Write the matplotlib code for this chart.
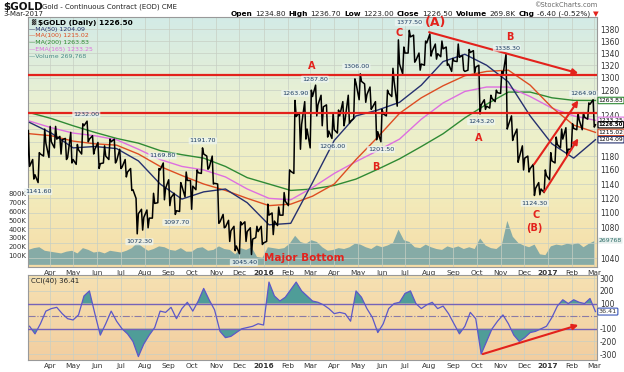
import numpy as np
import pandas as pd
import matplotlib
matplotlib.use('Agg')
import matplotlib.pyplot as plt
import matplotlib.dates as mdates
from matplotlib.colors import LinearSegmentedColormap
from matplotlib.ticker import FixedLocator, NullLocator

W, H = 624, 372

# weekly data, week ending Friday
week_end = pd.date_range('2015-03-06', '2017-03-03', freq='W-FRI')

highs = [1218, 1175, 1185, 1220,
         1224, 1224, 1209, 1206,
         1215, 1197, 1228, 1232, 1210,
         1200, 1195, 1205, 1205,
         1190, 1175, 1162, 1120, 1105,
         1104, 1127, 1162, 1170,
         1146, 1127, 1142, 1157,
         1145, 1160, 1192, 1180, 1180,
         1140, 1098, 1090, 1082,
         1088, 1088, 1080, 1082,
         1082, 1112, 1100, 1108, 1128,
         1160, 1264, 1245, 1262,
         1280, 1288, 1272, 1257,
         1245, 1249, 1262, 1272, 1298,
         1306, 1290, 1285, 1262,
         1250, 1280, 1315, 1362,
         1350, 1378, 1370, 1340, 1360,
         1372, 1355, 1360, 1350,
         1331, 1355, 1336, 1346, 1344,
         1320, 1265, 1272, 1280,
         1310, 1338, 1240, 1220,
         1195, 1180, 1168, 1142, 1160,
         1185, 1208, 1220, 1222,
         1228, 1245, 1245, 1260,
         1265]
lows = [1163, 1147, 1142, 1180,
        1178, 1192, 1183, 1175,
        1170, 1168, 1183, 1201, 1183,
        1162, 1170, 1175, 1170,
        1162, 1150, 1131, 1072, 1077,
        1080, 1093, 1114, 1118,
        1110, 1098, 1102, 1122,
        1105, 1132, 1155, 1161, 1140,
        1086, 1080, 1062, 1050,
        1046, 1062, 1045, 1067,
        1058, 1062, 1071, 1083, 1097,
        1110, 1155, 1190, 1205,
        1192, 1240, 1225, 1208,
        1206, 1214, 1225, 1229, 1236,
        1265, 1261, 1250, 1204,
        1201, 1240, 1270, 1255,
        1306, 1340, 1325, 1312, 1320,
        1335, 1330, 1334, 1320,
        1310, 1326, 1312, 1312, 1308,
        1243, 1250, 1252, 1262,
        1275, 1220, 1203, 1171,
        1160, 1157, 1124, 1125, 1128,
        1146, 1170, 1192, 1180,
        1190, 1219, 1219, 1235,
        1223]
closes = [1165, 1153, 1183, 1199,
          1201, 1205, 1204, 1178,
          1175, 1189, 1225, 1205, 1190,
          1169, 1180, 1201, 1173,
          1164, 1157, 1132, 1099, 1094,
          1093, 1113, 1160, 1134,
          1121, 1103, 1137, 1145,
          1137, 1156, 1183, 1163, 1141,
          1088, 1081, 1076, 1056,
          1084, 1075, 1065, 1075,
          1060, 1097, 1089, 1097, 1116,
          1158, 1239, 1227, 1220,
          1270, 1257, 1254, 1217,
          1219, 1240, 1235, 1232, 1291,
          1294, 1273, 1253, 1216,
          1243, 1275, 1294, 1322,
          1340, 1367, 1328, 1322, 1357,
          1343, 1339, 1347, 1322,
          1327, 1333, 1310, 1341, 1317,
          1257, 1255, 1267, 1276,
          1304, 1226, 1209, 1178,
          1177, 1162, 1134, 1133, 1152,
          1173, 1197, 1205, 1190,
          1221, 1234, 1238, 1258,
          1226.5]
volume_k = [170, 190, 200, 160,
            150, 140, 130, 150,
            160, 130, 190, 170, 140,
            150, 130, 160, 150,
            140, 160, 190, 250, 200,
            160, 180, 210, 200,
            170, 160, 190, 150,
            150, 190, 200, 160, 170,
            210, 180, 170, 120,
            190, 170, 200, 90,
            80, 200, 190, 180, 190,
            240, 330, 260, 240,
            280, 260, 200, 160,
            170, 190, 180, 200, 240,
            230, 200, 180, 220,
            200, 220, 250, 400,
            280, 260, 200, 190, 230,
            200, 180, 170, 210,
            190, 210, 180, 200, 180,
            300, 220, 190, 180,
            230, 500, 320, 250,
            220, 200, 230, 120, 110,
            210, 230, 220, 240,
            230, 250, 200, 240,
            270]
cci = [-80, -140, -60, 40,
       60, 70, 20, -20,
       -30, 10, 160, 200, 20,
       -150, -60, 40, -40,
       -100, -140, -200, -320, -220,
       -150, -90, 40, 30,
       70, -20, 60, 110,
       40, 120, 220, 130, 50,
       -120, -170, -160, -130,
       -100, -90, -80, -60,
       -70, 270, 160, 120, 150,
       210, 270, 200, 160,
       120, 110, 90, 60,
       20, 30, 20, -40, 200,
       150, 60, -10, -130,
       -60, 60, 100, 110,
       180, 200, 100, 60, 90,
       110, 60, 80, 20,
       -60, -140, -80, 30, -20,
       -300, -200, -100, -40,
       10, -60, -150, -200,
       -170, -130, -120, -100, -80,
       -10, 80, 130, 100,
       130, 110, 100, 140,
       36.41]

# moving averages, every fourth week
ma_dates = week_end[::4]
ma50 = [1230, 1214, 1192, 1194, 1191, 1173, 1140, 1119, 1129, 1133, 1114, 1084, 1086, 1142,
        1203, 1240, 1249, 1261, 1288, 1326, 1338, 1320, 1293, 1240, 1198, 1177, 1204.09]
ma100 = [1213, 1210, 1202, 1198, 1196, 1183, 1165, 1152, 1140, 1131, 1120, 1110, 1112, 1123,
         1140, 1175, 1208, 1244, 1268, 1287, 1303, 1310, 1312, 1288, 1253, 1226, 1215.02]
ma200 = [1245, 1236, 1225, 1215, 1206, 1199, 1188, 1182, 1177, 1165, 1149, 1140, 1131, 1133,
         1138, 1147, 1161, 1176, 1194, 1213, 1237, 1258, 1277, 1277, 1268, 1264, 1263.83]
ema165 = [1232, 1222, 1214, 1210, 1204, 1190, 1175, 1165, 1160, 1150, 1133, 1120, 1118, 1135,
          1155, 1172, 1188, 1205, 1235, 1260, 1278, 1285, 1285, 1270, 1252, 1240, 1233.25]

price_labels = [('1141.60', '2015-03-17', 1142, 0, -9), ('1232.00', '2015-05-18', 1232, 0, 7),
                ('1072.30', '2015-07-24', 1072, 1, -8), ('1169.80', '2015-08-24', 1170, 0, 7),
                ('1097.70', '2015-09-11', 1098, 0, -8), ('1191.70', '2015-10-15', 1192, 0, 7),
                ('1045.40', '2015-12-17', 1045, -8, -8), ('1263.90', '2016-02-11', 1264, 0, 7),
                ('1287.80', '2016-03-11', 1288, -3, 6), ('1206.00', '2016-03-30', 1206, 0, -8),
                ('1306.00', '2016-05-02', 1306, -2, 7), ('1201.50', '2016-05-31', 1201.5, 0, -8),
                ('1377.50', '2016-07-06', 1377.5, 0, 8), ('1243.20', '2016-10-07', 1243.2, 0, -8),
                ('1338.30', '2016-11-09', 1338.3, 0, 6), ('1124.30', '2016-12-15', 1124.3, 0, -8),
                ('1264.90', '2017-02-27', 1264.9, -9, 6)]
wave_labels = [('A', '2016-03-03', 1318, 7), ('B', '2016-05-25', 1164, 7), ('C', '2016-06-23', 1373, 7),
               ('(A)', '2016-08-09', 1391, 9), ('B', '2016-11-13', 1367, 7), ('A', '2016-10-04', 1206, 7),
               ('C', '2016-12-17', 1097, 7), ('(B)', '2016-12-14', 1080, 7),
               ('Major Bottom', '2016-02-23', 1041, 7.5)]
support_lines = [1305, 1244]
price_arrows = [(('2016-08-01', 1375), ('2017-02-09', 1307)),
                (('2016-12-14', 1168), ('2017-02-09', 1264)),
                (('2016-12-27', 1129), ('2017-02-09', 1206))]
cci_arrow = (('2016-10-09', -300), ('2017-02-09', -70))

RED = '#e3221c'
C50, C100, C200, CEMA = '#25306e', '#dd4d22', '#2f8a34', '#de6fe0'
VOLC = '#86aba6'
GRID = '#c7cfc4'


def rect(x0, y0, x1, y1):
    return [x0 / W, 1 - y1 / H, (x1 - x0) / W, (y1 - y0) / H]


fig = plt.figure(figsize=(W / 100, H / 100), dpi=100)
fig.patch.set_facecolor('white')

main_rect = rect(28, 17, 597, 267)
cci_rect = rect(28, 275, 597, 360)

for r, cols in [(main_rect, ['#d3ebe7', '#e9f0d2', '#f2eebf', '#f6dca6']),
                (cci_rect, ['#f6e1b2', '#f2cea0'])]:
    bg = fig.add_axes(r, zorder=0)
    cmap = LinearSegmentedColormap.from_list('g', cols)
    bg.imshow(np.linspace(0, 1, 256).reshape(-1, 1), aspect='auto', cmap=cmap, extent=[0, 1, 0, 1])
    bg.set_axis_off()

xmin, xmax = pd.Timestamp('2015-03-04'), pd.Timestamp('2017-03-05')
month_starts = pd.date_range('2015-04-01', '2017-03-01', freq='MS')
month_text = [d.strftime('%Y') if d.month == 1 else d.strftime('%b') for d in month_starts]

ax = fig.add_axes(main_rect, zorder=2)
vax = ax.twinx()
vax.set_zorder(1)
ax.set_zorder(2)
ax.patch.set_visible(False)
vax.patch.set_visible(False)

# volume
vax.fill_between(week_end - pd.Timedelta(days=2), volume_k, 0, color=VOLC, lw=0)
vax.set_ylim(-30, 2810)
vax.yaxis.set_ticks_position('left')
vax.set_yticks([100, 200, 300, 400, 500, 600, 700, 800])
vax.set_yticklabels(['%dK' % v for v in [100, 200, 300, 400, 500, 600, 700, 800]], fontsize=5, color='#333333')
vax.tick_params(axis='y', length=0, pad=1)
for s in vax.spines.values():
    s.set_visible(False)

# grid
ax.set_yscale('log')
ax.set_ylim(1029, 1401)
ax.set_xlim(xmin, xmax)
for d in month_starts:
    ax.axvline(d, color=GRID, lw=0.5, zorder=0)
for p in range(1040, 1400, 20):
    ax.axhline(p, color=GRID, lw=0.5, zorder=0)

# moving averages
ax.plot(ma_dates, ma200, color=C200, lw=1.0, zorder=3)
ax.plot(ma_dates, ema165, color=CEMA, lw=1.0, zorder=3)
ax.plot(ma_dates, ma100, color=C100, lw=1.0, zorder=3)
ax.plot(ma_dates, ma50, color=C50, lw=1.0, zorder=3)

# price path through each week's high and low
px_d, px_v = [week_end[0] - pd.Timedelta(days=4)], [closes[0]]
prev = closes[0]
for d, hi, lo, c in zip(week_end, highs, lows, closes):
    first, second = (lo, hi) if c >= prev else (hi, lo)
    px_d += [d - pd.Timedelta(days=3), d - pd.Timedelta(days=1.5), d]
    px_v += [first, second, c]
    prev = c
ax.plot(px_d, px_v, color='black', lw=1.1, zorder=4)

for y in support_lines:
    ax.axhline(y, color=RED, lw=1.6, zorder=5)
for (d0, p0), (d1, p1) in price_arrows:
    ax.annotate('', xy=(pd.Timestamp(d1), p1), xytext=(pd.Timestamp(d0), p0),
                arrowprops=dict(arrowstyle='-|>', color=RED, lw=1.5, mutation_scale=8,
                                shrinkA=0, shrinkB=0), zorder=6)

for txt, d, p, dx, dy in price_labels:
    ax.annotate(txt, xy=(pd.Timestamp(d), p), xytext=(dx * 0.72, dy * 0.72), textcoords='offset points',
                ha='center', va='center', fontsize=4.6, color='#1d3d63', zorder=7,
                bbox=dict(boxstyle='round,pad=0.15', fc='#eef6f4', ec='none', alpha=0.75))
for txt, d, p, fs in wave_labels:
    ax.text(pd.Timestamp(d), p, txt, ha='center', va='center', fontsize=fs, color=RED,
            fontweight='bold', zorder=7)

ax.yaxis.tick_right()
ticks = [1040, 1080, 1100, 1120, 1140, 1160, 1180, 1240, 1280, 1300, 1320, 1340, 1360, 1380]
ax.yaxis.set_major_locator(FixedLocator(ticks))
ax.yaxis.set_minor_locator(NullLocator())
ax.set_yticklabels([str(t) for t in ticks], fontsize=5.5, color='#333333')
ax.set_xticks(month_starts)
ax.set_xticklabels(month_text, fontsize=5.3, color='#333333')
for lab, t in zip(ax.get_xticklabels(), month_text):
    if t.isdigit():
        lab.set_fontweight('bold')
ax.tick_params(length=0, pad=2)
for s in ax.spines.values():
    s.set_color('#999999')
    s.set_linewidth(0.8)


def tag(axis, y, txt, ec, tc='black', bold=False, z=10, fs=4.3):
    axis.annotate(txt, xy=(1, y), xycoords=axis.get_yaxis_transform(), xytext=(1.2, 0),
                  textcoords='offset points', ha='left', va='center', fontsize=fs, color=tc,
                  fontweight='bold' if bold else 'normal', annotation_clip=False, zorder=z,
                  bbox=dict(boxstyle='round,pad=0.12', fc='white', ec=ec, lw=0.8))


tag(ax, ma200[-1], '%.2f' % ma200[-1], C200)
tag(ax, ema165[-1], '%.2f' % ema165[-1], CEMA)
tag(ax, closes[-1], '%.2f' % closes[-1], 'black', bold=True, z=11, fs=3.9)
tag(ax, ma100[-1], '%.2f' % ma100[-1], C100)
tag(ax, ma50[-1], '%.2f' % ma50[-1], C50)
vax.annotate('269768', xy=(1, volume_k[-1]), xycoords=vax.get_yaxis_transform(), xytext=(1.2, 0),
             textcoords='offset points', ha='left', va='center', fontsize=4.4, color='#2f6f6a',
             annotation_clip=False, bbox=dict(boxstyle='round,pad=0.1', fc='#e8f0ee', ec='none'))

# CCI panel
cax = fig.add_axes(cci_rect, zorder=2)
cax.patch.set_visible(False)
cax.set_xlim(xmin, xmax)
cax.set_ylim(-347, 326)
for d in month_starts:
    cax.axvline(d, color=GRID, lw=0.5, zorder=0)
for v in [-300, -200, 200, 300]:
    cax.axhline(v, color=GRID, lw=0.5, zorder=0)
cci_arr = np.array(cci)
cax.fill_between(week_end, cci_arr, 100, where=cci_arr >= 100, interpolate=True, color='#4f9d98', lw=0, zorder=2)
cax.fill_between(week_end, cci_arr, -100, where=cci_arr <= -100, interpolate=True, color='#4f9d98', lw=0, zorder=2)
cax.axhline(100, color='#7563b8', lw=1.0, zorder=3)
cax.axhline(-100, color='#7563b8', lw=1.0, zorder=3)
cax.axhline(0, color='#8a7aa6', lw=0.8, ls='-.', zorder=3)
cax.plot(week_end, cci, color='#5b57c9', lw=0.9, zorder=4)
(d0, v0), (d1, v1) = cci_arrow
cax.annotate('', xy=(pd.Timestamp(d1), v1), xytext=(pd.Timestamp(d0), v0),
             arrowprops=dict(arrowstyle='-|>', color=RED, lw=1.5, mutation_scale=8, shrinkA=0, shrinkB=0),
             zorder=6)
cax.yaxis.tick_right()
cci_ticks = [-300, -200, -100, 100, 200, 300]
cax.set_yticks(cci_ticks)
cax.set_yticklabels([str(v) for v in cci_ticks], fontsize=5.5, color='#333333')
cax.set_xticks(month_starts)
cax.set_xticklabels(month_text, fontsize=5.3, color='#333333')
for lab, t in zip(cax.get_xticklabels(), month_text):
    if t.isdigit():
        lab.set_fontweight('bold')
cax.tick_params(length=0, pad=2)
for s in cax.spines.values():
    s.set_color('#999999')
    s.set_linewidth(0.8)
cax.annotate('36.41', xy=(1, cci[-1]), xycoords=cax.get_yaxis_transform(), xytext=(1.2, 0),
             textcoords='offset points', ha='left', va='center', fontsize=4.6, color='#333333',
             annotation_clip=False, zorder=10,
             bbox=dict(boxstyle='round,pad=0.15', fc='white', ec='#3a56b8', lw=0.8))
cax.text(0.005, 0.93, 'CCI(40) 36.41', transform=cax.transAxes, fontsize=5, color='#222222', va='center')

# headers and legend
def ftext(x, y, s, **kw):
    return fig.text(x / W, 1 - y / H, s, **kw)


ftext(3, 7, '$GOLD', fontsize=7.5, fontweight='bold', va='center', color='#111111')
ftext(42, 7, 'Gold - Continuous Contract (EOD) CME', fontsize=5, va='center', color='#222222')
ftext(3, 14, '3-Mar-2017', fontsize=5, va='center', color='#222222')
ftext(597, 5, '\u00a9StockCharts.com', fontsize=4.8, va='center', ha='right', color='#666666')

pieces = [('Open', 'bold', 'black'), ('1234.80', 'normal', '#222222'), ('High', 'bold', 'black'),
          ('1236.70', 'normal', '#222222'), ('Low', 'bold', 'black'), ('1223.00', 'normal', '#222222'),
          ('Close', 'bold', 'black'), ('1226.50', 'normal', '#222222'), ('Volume', 'bold', 'black'),
          ('269.8K', 'normal', '#222222'), ('Chg', 'bold', 'black'), ('-6.40 (-0.52%)', 'normal', '#222222'),
          ('\u25bc', 'normal', RED)]
r = fig.canvas.get_renderer()
objs = []
for s, wt, col in pieces:
    t = ftext(0, 14, s, fontsize=5.3, fontweight=wt, color=col, va='center', ha='left')
    objs.append((t, t.get_window_extent(r).width))
gap = 2.8
x = 599 - sum(w for _, w in objs) - gap * (len(objs) - 1)
for t, w in objs:
    t.set_x(x / W)
    x += w + gap

ftext(38, 22.5, '$GOLD (Daily) 1226.50', fontsize=5.3, fontweight='bold', va='center', color='black')
ftext(31, 22.5, '\u2593', fontsize=4, va='center', color='#333333')
legend_rows = [('MA(50) 1204.09', C50, 29), ('MA(100) 1215.02', C100, 35.7), ('MA(200) 1263.83', C200, 42.5),
               ('EMA(165) 1233.25', CEMA, 49.3), ('Volume 269,768', '#4a8d88', 56)]
for s, col, y in legend_rows:
    ftext(29, y, '\u2014' + s, fontsize=4.5, va='center', color=col)

fig.savefig('out.png', dpi=100)
